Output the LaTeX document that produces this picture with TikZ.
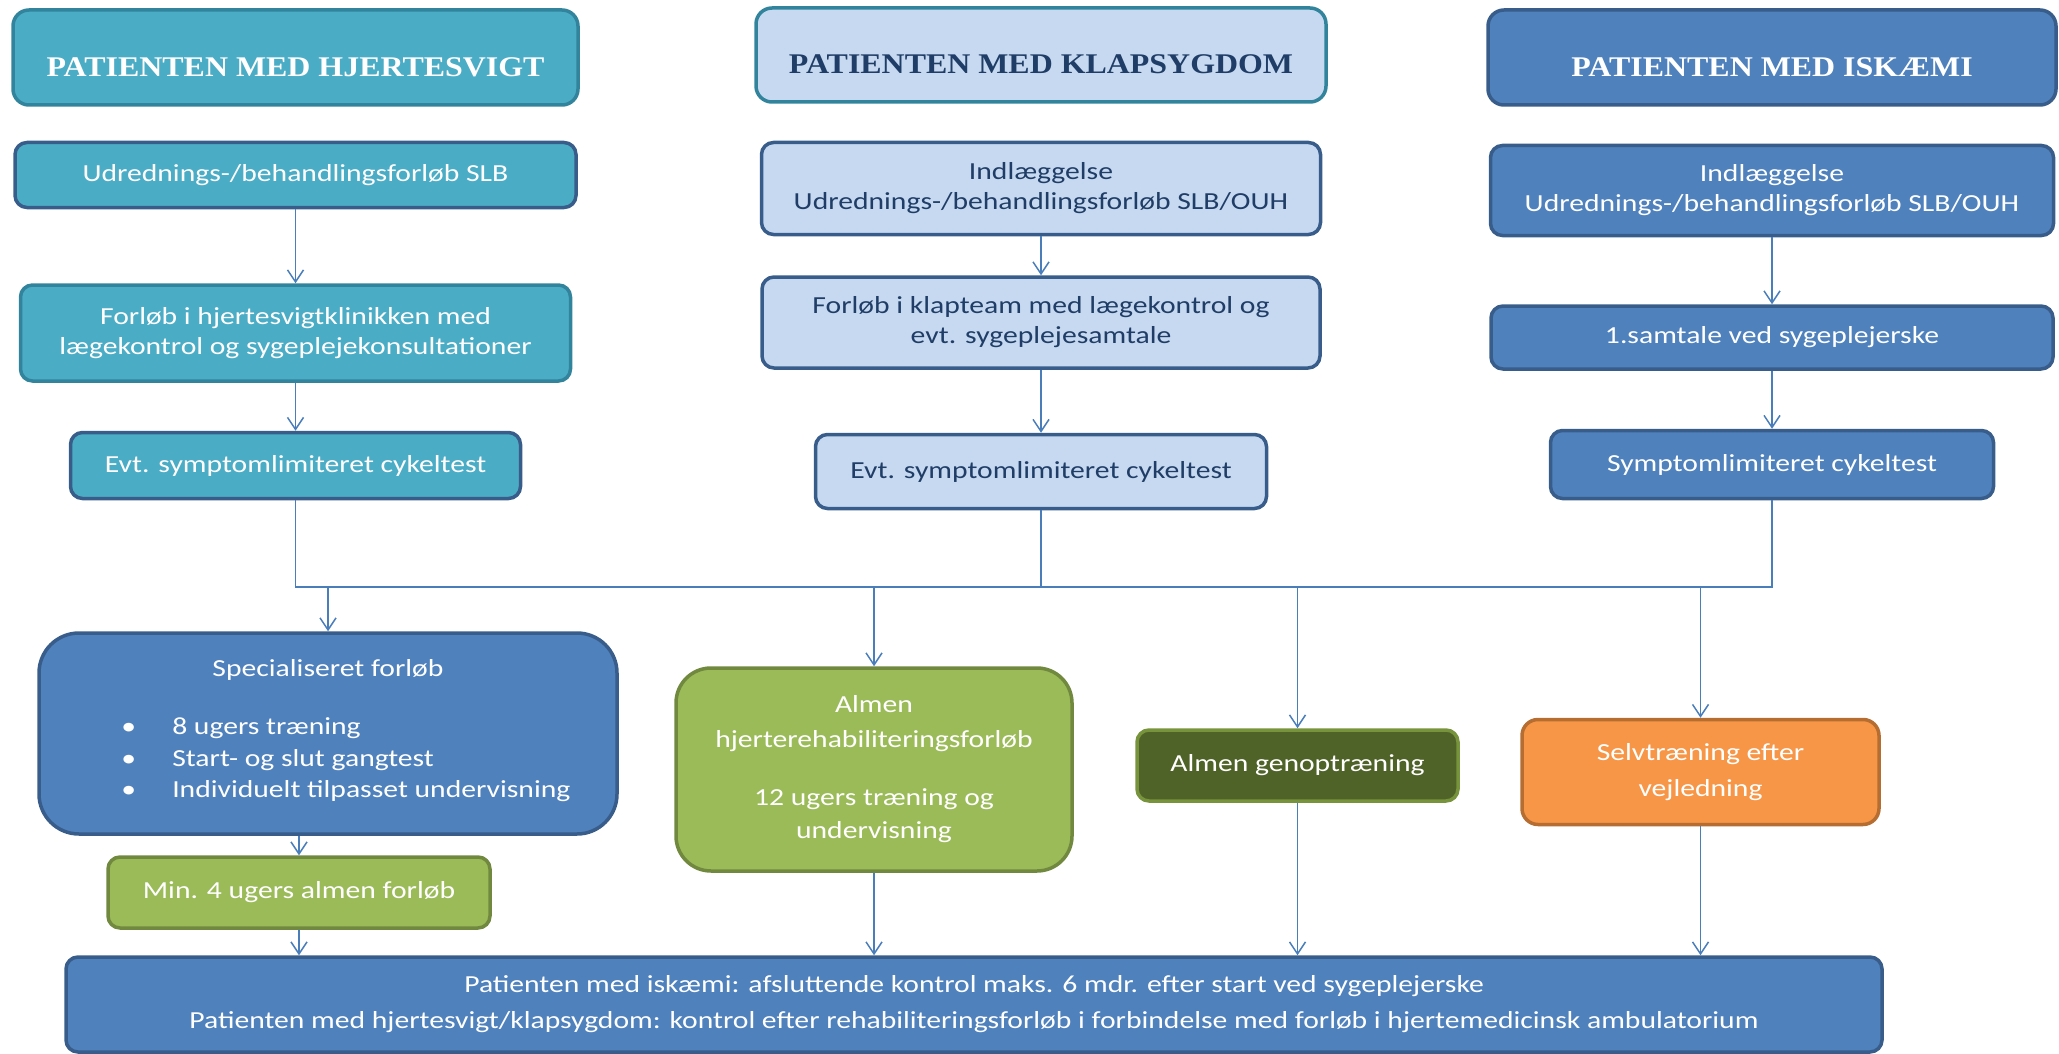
\documentclass[tikz,border=0pt]{standalone}
\usepackage{fontspec}
\setmainfont{Carlito}[FakeStretch=1.21]
\newfontfamily\headfont{Liberation Serif}[FakeStretch=1.12]
\usetikzlibrary{arrows.meta, positioning}

\definecolor{aqua}{HTML}{4BACC6}
\definecolor{aquadark}{HTML}{31849B}
\definecolor{paleblue}{HTML}{C6D9F1}
\definecolor{midblue}{HTML}{4F81BD}
\definecolor{navy}{HTML}{385D8A}
\definecolor{darknavy}{HTML}{1F3D66}
\definecolor{leaf}{HTML}{9BBB59}
\definecolor{leafdark}{HTML}{71893F}
\definecolor{olive}{HTML}{4F6228}
\definecolor{olivelight}{HTML}{77933C}
\definecolor{tangerine}{HTML}{F79646}
\definecolor{tangerinedark}{HTML}{B66D31}
\definecolor{linkblue}{HTML}{4A7EBB}

\begin{document}
\begin{tikzpicture}[
      x=1pt, y=1pt,
      titlebox/.style={rectangle, draw, rounded corners=16pt, line width=3.5pt, align=center, font=\headfont\bfseries\fontsize{28.5}{34}\selectfont, text height=38pt, text depth=0pt},
      stepbox/.style={rectangle, draw=navy, rounded corners=12pt, line width=3.5pt, align=center, font=\fontsize{24.5}{30}\selectfont, text=white},
      arrow/.style={-{Straight Barb[length=12pt, width=16pt]}, draw=linkblue, line width=1.5pt},
      busline/.style={draw=linkblue, line width=1.5pt}
      ]
      \useasboundingbox (0,0) rectangle (2059,-1054);

      % Patienten med hjertesvigt
      \node[titlebox, fill=aqua, draw=aquadark, text=white, minimum width=565pt, minimum height=95pt] (t1) at (295.5,-57.5) {PATIENTEN MED HJERTESVIGT};
      \node[stepbox, fill=aqua, minimum width=561pt, minimum height=65pt, below=34pt of t1] (a1) {Udrednings-/behandlingsforløb SLB};
      \node[stepbox, fill=aqua, draw=aquadark, minimum width=550pt, minimum height=96pt, below=74pt of a1] (b1) {Forløb i hjertesvigtklinikken med\\lægekontrol og sygeplejekonsultationer};
      \node[stepbox, fill=aqua, minimum width=450pt, minimum height=66pt, below=48pt of b1] (c1) {Evt. symptomlimiteret cykeltest};

      % Patienten med klapsygdom
      \node[titlebox, fill=paleblue, draw=aquadark, text=darknavy, minimum width=570pt, minimum height=94pt] (t2) at (1041,-55) {PATIENTEN MED KLAPSYGDOM};
      \node[stepbox, fill=paleblue, text=darknavy, minimum width=559pt, minimum height=92pt, below=37pt of t2] (a2) {Indlæggelse\\Udrednings-/behandlingsforløb SLB/OUH};
      \node[stepbox, fill=paleblue, text=darknavy, minimum width=558pt, minimum height=91pt, below=39pt of a2] (b2) {Forløb i klapteam med lægekontrol og\\evt. sygeplejesamtale};
      \node[stepbox, fill=paleblue, text=darknavy, minimum width=451pt, minimum height=74pt, below=63pt of b2] (c2) {Evt. symptomlimiteret cykeltest};

      % Patienten med iskaemi
      \node[titlebox, fill=midblue, draw=navy, text=white, minimum width=568pt, minimum height=95pt] (t3) at (1772,-57.5) {PATIENTEN MED ISKÆMI};
      \node[stepbox, fill=midblue, minimum width=563pt, minimum height=90pt, below=37pt of t3] (a3) {Indlæggelse\\Udrednings-/behandlingsforløb SLB/OUH};
      \node[stepbox, fill=midblue, minimum width=562pt, minimum height=63pt, below=67pt of a3] (b3) {1.samtale ved sygeplejerske};
      \node[stepbox, fill=midblue, minimum width=443pt, minimum height=68pt, below=58pt of b3] (c3) {Symptomlimiteret cykeltest};

      % Rehabilitation offers
      \coordinate (bus) at (0,-587);
      \node[stepbox, fill=midblue, rounded corners=40pt, minimum width=578pt, minimum height=201pt] (spec) at (328,-733.5) {Specialiseret forløb\\[28pt]
         \hspace*{36pt}\renewcommand{\arraystretch}{1.05}\begin{tabular}[t]{@{}l@{\hspace{36pt}}l@{}}
         \textbullet & 8 ugers træning\\
         \textbullet & Start- og slut gangtest\\
         \textbullet & Individuelt tilpasset undervisning
         \end{tabular}};
      \node[stepbox, fill=leaf, draw=leafdark, minimum width=382pt, minimum height=71pt] (minalmen) at (299,-892.5) {Min. 4 ugers almen forløb};
      \node[stepbox, fill=leaf, draw=leafdark, rounded corners=35pt, minimum width=396pt, minimum height=203pt] (almen) at (874,-769.5) {Almen\\[5pt]hjerterehabiliteringsforløb\\[28pt]12 ugers træning og\\[3pt]undervisning};
      \node[stepbox, fill=olive, draw=olivelight, minimum width=321pt, minimum height=71pt] (genop) at (1297.5,-765.5) {Almen genoptræning};
      \node[stepbox, fill=tangerine, draw=tangerinedark, rounded corners=16pt, minimum width=357pt, minimum height=105pt] (selv) at (1700.5,-772) {Selvtræning efter\\[6pt]vejledning};

      % Final control
      \node[stepbox, fill=midblue, minimum width=1816pt, minimum height=95pt] (final) at (974,-1004.5) {Patienten med iskæmi: afsluttende kontrol maks. 6 mdr. efter start ved sygeplejerske\\[6pt]Patienten med hjertesvigt/klapsygdom: kontrol efter rehabiliteringsforløb i forbindelse med forløb i hjertemedicinsk ambulatorium};

      % Arrows - columns
      \draw[arrow] (a1) -- (b1);
      \draw[arrow] (b1) -- (c1);
      \draw[arrow] (a2) -- (b2);
      \draw[arrow] (b2) -- (c2);
      \draw[arrow] (a3) -- (b3);
      \draw[arrow] (b3) -- (c3);

      % Collector line
      \draw[busline] (c1.south) -- (c1.south |- bus) -- (c3.south |- bus) -- (c3.south);
      \draw[busline] (c2.south) -- (c2.south |- bus);

      % Arrows - offers
      \draw[arrow] (spec.north |- bus) -- (spec.north);
      \draw[arrow] (almen.north |- bus) -- (almen.north);
      \draw[arrow] (genop.north |- bus) -- (genop.north);
      \draw[arrow] (selv.north |- bus) -- (selv.north);
      \draw[arrow] (minalmen.north |- spec.south) -- (minalmen.north);

      % Arrows - final control
      \draw[arrow] (minalmen.south) -- (minalmen.south |- final.north);
      \draw[arrow] (almen.south) -- (almen.south |- final.north);
      \draw[arrow] (genop.south) -- (genop.south |- final.north);
      \draw[arrow] (selv.south) -- (selv.south |- final.north);

   \end{tikzpicture}
\end{document}
